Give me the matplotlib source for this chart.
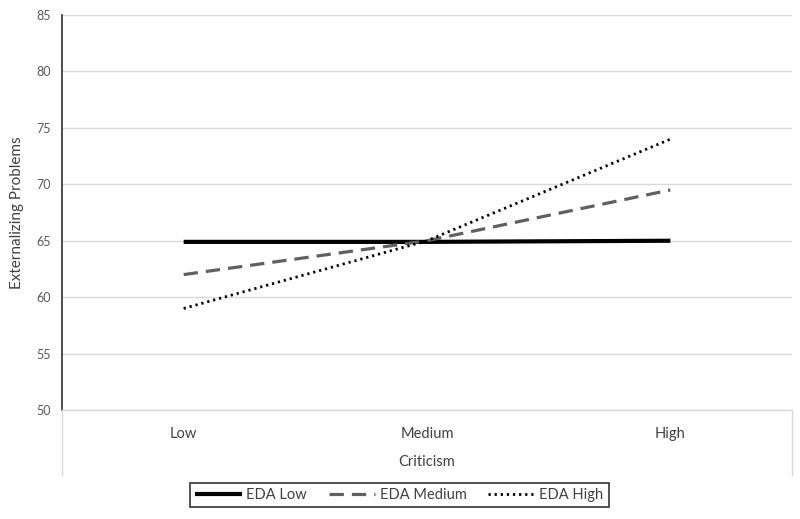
import matplotlib.pyplot as plt
from matplotlib.lines import Line2D

plt.rcParams['font.family'] = ['Lato', 'DejaVu Sans']

categories = ["Low", "Medium", "High"]
eda_low = [64.9, 64.9, 65.0]
eda_medium = [62.0, 65.0, 69.5]
eda_high = [59.0, 65.0, 74.0]
yticks = [50, 55, 60, 65, 70, 75, 80, 85]

fig = plt.figure(figsize=(8, 5.19), dpi=100)
ax = fig.add_axes([0.0775, 0.21, 0.9125, 0.761])

x = range(len(categories))
ax.plot(x, eda_low, color="black", lw=3, solid_capstyle="butt", label="EDA Low")
ax.plot(x, eda_medium, color="#606060", lw=2.3, linestyle=(0, (4.5, 2.5)), label="EDA Medium")
ax.plot(x, eda_high, color="black", lw=2, linestyle=(0, (0.8, 1.4)), label="EDA High")

ax.set_xlim(-0.5, 2.5)
ax.set_ylim(50, 85)
ax.set_yticks(yticks)
ax.set_xticks(list(x))
ax.set_xticklabels(categories)
ax.grid(axis="y", color="#d9d9d9", lw=1)
ax.set_axisbelow(True)
ax.tick_params(axis="y", length=0, labelsize=9, labelcolor="#595959", pad=8)
ax.tick_params(axis="x", length=0, labelsize=10.5, labelcolor="#404040", pad=12)

for s in ["top", "right", "bottom"]:
    ax.spines[s].set_visible(False)
ax.spines["left"].set_color("#404040")
ax.spines["left"].set_linewidth(1.3)

ax.set_ylabel("Externalizing Problems", fontsize=11, color="#404040", labelpad=9)
ax.set_xlabel("Criticism", fontsize=10.5, color="#404040", labelpad=10)

# light gray box lines below the axis, like the source
y_top = 0.21
y_bot = (519 - 475) / 519
for xf in [0.0775, 0.99]:
    fig.add_artist(Line2D([xf, xf], [y_bot, y_top], color="#d9d9d9", lw=1))
fig.add_artist(Line2D([0.0775, 0.99], [y_top, y_top], color="#d9d9d9", lw=1))

leg = fig.legend(loc="center", bbox_to_anchor=(0.499, 0.046), ncol=3, frameon=True,
                 fancybox=False, edgecolor="black", fontsize=10.5, handlelength=3.2,
                 columnspacing=1.5, handletextpad=0.3, borderpad=0.35)
leg.get_frame().set_linewidth(1.2)
for t in leg.get_texts():
    t.set_color("#404040")

fig.savefig("out.png", dpi=100, facecolor="white")
